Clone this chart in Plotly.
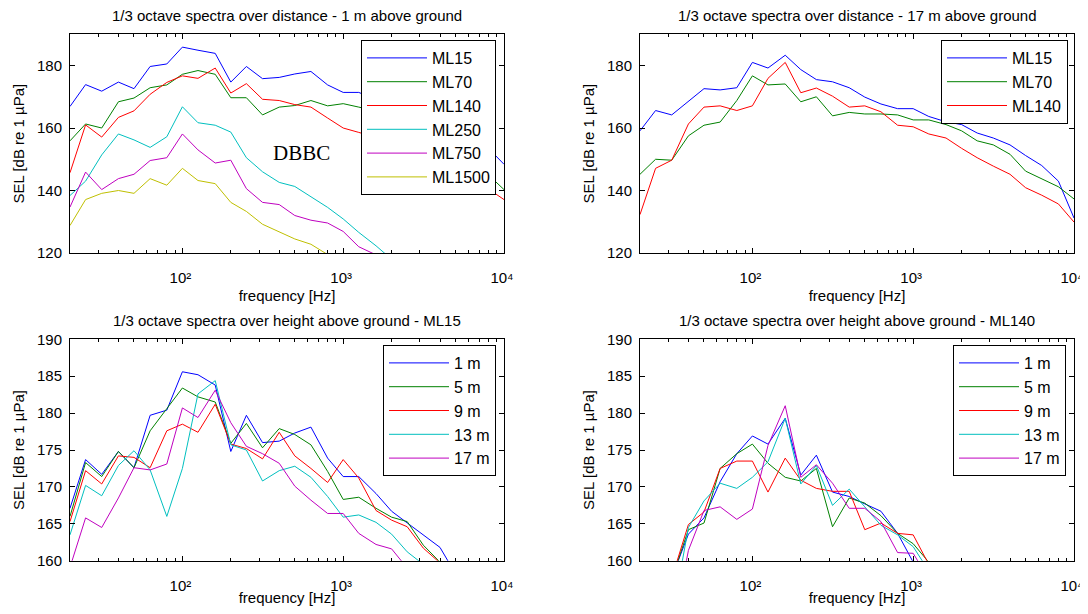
import math
import plotly.graph_objects as go

# ---------------- data ----------------
FREQ = [20, 25, 31.5, 40, 50, 63, 80, 100, 125, 160, 200, 250, 315, 400, 500,
        630, 800, 1000, 1250, 1600, 2000, 2500, 3150, 4000, 5000, 6300, 8000, 10000]

# Top-left: 1/3 octave spectra over distance, 1 m above ground
d1_ML15 = [166.9, 173.9, 171.8, 174.7, 172.6, 179.7, 180.5, 185.9, 184.9, 183.9, 174.7, 179.7, 175.8, 176.2,
           177.3, 178.1, 173.8, 171.4, 171.4, 169.1, 166.7, 165.1, 163.4, 161.8, 159.5, 157.0, 153.5, 148.4]
d1_ML70 = [155.9, 161.3, 160.0, 168.4, 169.6, 172.9, 173.8, 177.2, 178.4, 177.2, 169.7, 169.7, 164.2, 166.7,
           167.2, 168.8, 167.1, 167.8, 166.7, 165.5, 164.0, 162.0, 159.5, 156.5, 153.0, 149.5, 145.0, 140.3]
d1_ML140 = [145.7, 161.0, 157.1, 163.4, 165.5, 170.8, 174.6, 176.7, 175.9, 179.2, 171.2, 174.2, 169.2, 168.8,
            167.5, 166.7, 163.2, 160.0, 158.6, 157.0, 155.5, 154.0, 152.0, 150.0, 147.0, 144.0, 140.5, 137.1]
d1_ML250 = [138.4, 143.0, 151.4, 158.1, 156.2, 153.8, 157.2, 166.8, 161.7, 160.9, 158.7, 150.5, 146.0, 142.6,
            141.3, 138.1, 134.6, 130.9, 126.6, 122.3, 118.0]
d1_ML750 = [134.7, 145.9, 140.3, 143.8, 145.2, 149.6, 150.5, 158.1, 153.0, 148.8, 149.7, 140.6, 136.2, 135.5,
            132.0, 130.5, 129.6, 126.9, 122.0, 119.4]
d1_ML1500 = [128.8, 137.1, 139.1, 140.0, 139.1, 143.8, 141.7, 147.1, 143.2, 142.2, 136.2, 133.3, 129.2, 126.9,
             124.5, 122.8, 119.5]

# Top-right: over distance, 17 m above ground
d17_ML15 = [159.1, 165.6, 164.2, 168.4, 172.6, 172.2, 172.9, 181.0, 179.2, 183.3, 178.7, 175.5, 174.8, 172.9,
            169.9, 167.7, 166.2, 166.2, 163.7, 162.0, 161.1, 158.4, 156.8, 154.6, 151.2, 148.0, 143.0, 131.2]
d17_ML70 = [145.2, 150.0, 149.7, 157.5, 160.9, 161.9, 168.8, 176.7, 173.8, 174.1, 168.4, 170.0, 163.9, 165.0,
            164.5, 164.5, 164.2, 162.6, 162.6, 161.1, 159.1, 155.9, 154.6, 151.6, 146.2, 143.8, 141.2, 137.3]
d17_ML140 = [132.3, 147.1, 149.7, 161.3, 166.7, 167.1, 165.6, 167.1, 175.9, 181.0, 171.3, 172.8, 170.2, 166.7,
             167.1, 165.2, 160.9, 160.4, 158.1, 156.8, 153.5, 150.5, 147.8, 145.2, 140.9, 138.5, 135.7, 129.9]

# Bottom-left: over height above ground, ML15
h15_1m = [167.1, 173.7, 171.7, 174.8, 172.6, 179.7, 180.4, 185.6, 185.2, 183.8, 174.8, 179.7, 176.0, 176.2,
          177.3, 178.1, 173.9, 171.4, 171.4, 169.1, 166.7, 165.1, 163.4, 161.8, 158.2]
h15_5m = [166.0, 173.3, 171.4, 174.8, 172.6, 177.6, 180.6, 183.4, 182.2, 181.5, 175.9, 178.6, 175.3, 177.9,
          177.1, 175.7, 172.1, 168.3, 168.6, 167.1, 165.9, 165.3, 162.1, 159.8]
h15_9m = [165.3, 172.2, 170.4, 174.2, 174.0, 172.6, 177.6, 178.5, 177.4, 181.2, 175.8, 175.2, 173.8, 177.4,
          174.2, 172.5, 170.6, 173.7, 171.2, 166.8, 165.5, 164.6, 161.7, 159.7]
h15_13m = [163.5, 170.2, 168.8, 172.9, 174.9, 172.3, 166.0, 172.5, 182.6, 184.4, 175.7, 175.0, 170.8, 172.2,
           172.8, 171.3, 168.7, 165.9, 166.2, 165.2, 163.6, 161.2, 159.5]
h15_17m = [159.1, 165.8, 164.5, 168.5, 172.6, 172.3, 173.1, 180.7, 179.4, 183.1, 178.7, 175.5, 174.5, 173.2,
           170.1, 168.2, 166.4, 166.4, 163.7, 162.2, 161.6, 159.0]

# Bottom-right: over height above ground, ML140
h140_1m = [145.0, 156.0, 157.7, 163.6, 165.8, 170.7, 174.5, 176.9, 175.8, 179.3, 171.6, 174.3, 169.3, 168.7,
           167.7, 166.7, 163.7, 159.8]
h140_5m = [144.0, 155.0, 157.5, 164.2, 165.1, 172.5, 174.5, 175.8, 173.2, 171.3, 170.8, 172.5, 164.6, 168.5,
           167.8, 166.1, 163.7, 162.3, 159.8]
h140_9m = [145.0, 156.0, 157.6, 164.9, 166.6, 172.5, 173.5, 173.5, 169.3, 173.9, 170.9, 169.8, 169.4, 169.4,
           164.2, 165.1, 163.7, 163.5, 159.5]
h140_13m = [144.0, 150.0, 152.0, 164.5, 168.1, 170.5, 169.8, 171.3, 173.4, 179.3, 170.4, 172.9, 167.5, 169.7,
            167.3, 164.8, 163.5, 161.9, 158.6]
h140_17m = [132.3, 147.1, 149.7, 161.4, 166.8, 167.3, 165.6, 167.0, 175.6, 181.0, 171.3, 173.0, 170.5, 167.1,
            167.1, 165.3, 161.1, 161.0, 157.5]

TITLES = ["1/3 octave spectra over distance - 1 m above ground",
          "1/3 octave spectra over distance - 17 m above ground",
          "1/3 octave spectra over height above ground - ML15",
          "1/3 octave spectra over height above ground - ML140"]
XLABEL = "frequency [Hz]"
YLABEL = "SEL [dB re 1 µPa]"
XTICKS = [100, 1000, 10000]
XTICKTEXT = ["10²", "10³", "10⁴"]
YTICKS_TOP = [120, 140, 160, 180]
YTICKS_BOT = [160, 165, 170, 175, 180, 185, 190]

# MATLAB default line colours
C_BLUE, C_GREEN, C_RED = "#0000ff", "#008000", "#ff0000"
C_CYAN, C_MAG, C_YEL = "#00bfbf", "#bf00bf", "#bfbf00"

panels = [
    ("x", "y", "legend", [("ML15", d1_ML15, C_BLUE), ("ML70", d1_ML70, C_GREEN), ("ML140", d1_ML140, C_RED),
                          ("ML250", d1_ML250, C_CYAN), ("ML750", d1_ML750, C_MAG), ("ML1500", d1_ML1500, C_YEL)]),
    ("x2", "y2", "legend2", [("ML15", d17_ML15, C_BLUE), ("ML70", d17_ML70, C_GREEN), ("ML140", d17_ML140, C_RED)]),
    ("x3", "y3", "legend3", [("1 m", h15_1m, C_BLUE), ("5 m", h15_5m, C_GREEN), ("9 m", h15_9m, C_RED),
                             ("13 m", h15_13m, C_CYAN), ("17 m", h15_17m, C_MAG)]),
    ("x4", "y4", "legend4", [("1 m", h140_1m, C_BLUE), ("5 m", h140_5m, C_GREEN), ("9 m", h140_9m, C_RED),
                             ("13 m", h140_13m, C_CYAN), ("17 m", h140_17m, C_MAG)]),
]

# The page places the figure 8 px in from the top-left corner, so the figure
# is smaller and all pixel positions below are given in window pixels.
OFF = 8
W, H = 1088 - OFF, 614 - 2 * OFF
FONT = "Liberation Sans, Arial, sans-serif"


def px(xp):
    return (xp - OFF) / W


def py(yp):
    return 1 - (yp - OFF) / H


fig = go.Figure()
for pi, (xa, ya, lg, series) in enumerate(panels):
    for name, vals, col in series:
        fig.add_trace(go.Scatter(
            x=FREQ[:len(vals)], y=vals, mode="lines", name=name,
            line=dict(color=col, width=1), xaxis=xa, yaxis=ya, legend=lg,
            legendgroup=f"p{pi}_{name}", cliponaxis=True))

# panel boxes in window pixels (left, right, top, bottom)
boxes = [(70, 504, 34.3, 253.0), (640, 1074, 34.3, 253.0),
         (70, 504, 339.3, 560.7), (640, 1074, 339.3, 560.7)]

minor_vals = []
for dec in [10, 100, 1000]:
    for k in range(2, 10):
        minor_vals.append(dec * k)

layout = dict(width=W, height=H, margin=dict(l=0, r=0, t=0, b=0, pad=0, autoexpand=False),
              paper_bgcolor="white", plot_bgcolor="white",
              font=dict(family=FONT, size=15, color="black"), showlegend=True)

for i, (l, r, t, b) in enumerate(boxes):
    sfx = "" if i == 0 else str(i + 1)
    top = i < 2
    layout["xaxis" + sfx] = dict(
        domain=[px(l), px(r)], anchor="y" + sfx, type="log", automargin=False,
        range=[math.log10(20), 4], tickmode="array", tickvals=XTICKS, ticktext=XTICKTEXT,
        ticks="inside", ticklen=5, tickcolor="black", showline=True, linecolor="black",
        linewidth=1, mirror="ticks", showgrid=False, zeroline=False,
        tickfont=dict(size=15), ticklabelstandoff=11, ticklabelshift=-2,
        ticklabeloverflow="allow",
        minor=dict(ticks="inside", ticklen=3, tickcolor="black", tickmode="array", tickvals=minor_vals,
                   showgrid=False),
        title=dict(text=XLABEL, font=dict(size=15), standoff=5))
    layout["yaxis" + sfx] = dict(
        domain=[py(b), py(t)], anchor="x" + sfx, automargin=False,
        range=[120, 190] if top else [160, 190],
        tickmode="array", tickvals=YTICKS_TOP if top else YTICKS_BOT,
        ticks="inside", ticklen=5, tickcolor="black", showline=True, linecolor="black",
        linewidth=1, mirror="ticks", showgrid=False, zeroline=False,
        tickfont=dict(size=15), ticklabelstandoff=4,
        title=dict(text=YLABEL, font=dict(size=15), standoff=8))

legend_pos = [(361, 40), (941, 40), (383, 345), (953, 345)]
for i, (lx, ly) in enumerate(legend_pos):
    key = "legend" if i == 0 else f"legend{i + 1}"
    layout[key] = dict(x=px(lx), y=py(ly), xanchor="left", yanchor="top",
                       bgcolor="white", bordercolor="black", borderwidth=1,
                       font=dict(size=16, family=FONT), traceorder="grouped",
                       tracegroupgap=0, itemwidth=60)

annotations = []
for i, (l, r, t, b) in enumerate(boxes):
    annotations.append(dict(text=TITLES[i], xref="paper", yref="paper",
                            x=px((l + r) / 2), y=py(t - 18.5), xanchor="center", yanchor="middle",
                            showarrow=False, font=dict(size=15, family=FONT)))
annotations.append(dict(text="DBBC", xref="paper", yref="paper", x=px(301), y=py(153),
                        xanchor="center", yanchor="middle", showarrow=False,
                        font=dict(size=21, family="Liberation Serif, Times New Roman, serif")))
layout["annotations"] = annotations

fig.update_layout(**layout)
fig.write_html("out.html")
